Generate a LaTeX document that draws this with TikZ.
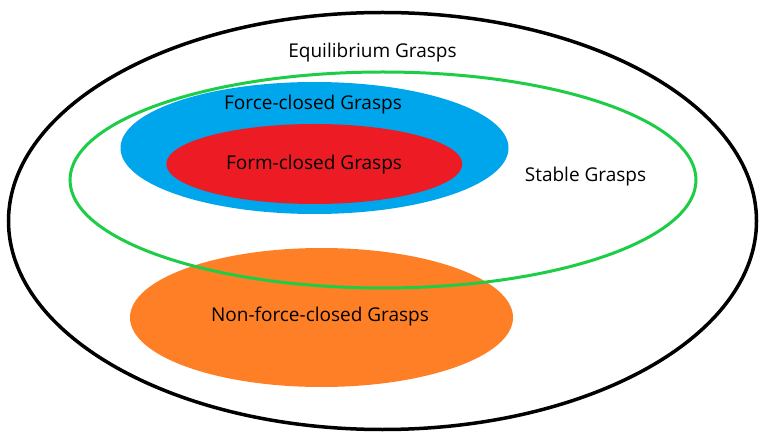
\documentclass[tikz,border=0pt]{standalone}
\usepackage{fontspec}
\setmainfont{Open Sans}
\definecolor{fblue}{RGB}{0,166,236}
\definecolor{fred}{RGB}{237,28,36}
\definecolor{forange}{RGB}{255,127,39}
\definecolor{fgreen}{RGB}{30,205,70}
\tikzset{lbl/.style={font=\fontsize{19}{23}\selectfont, text=black, inner sep=0pt}}
\begin{document}
\begin{tikzpicture}[x=1pt,y=1pt]
\useasboundingbox (0,0) rectangle (765,434);
\fill[fblue] (314.5,{434-148}) ellipse [x radius=194, y radius=66];
\fill[fred] (314.3,{434-164}) ellipse [x radius=148, y radius=40];
\fill[forange] (321.5,{434-317.5}) ellipse [x radius=191.5, y radius=69.5];
\draw[fgreen, line width=3pt] (383,{434-180}) ellipse [x radius=313, y radius=108];
\draw[black, line width=3.5pt] (382.5,{434-221}) ellipse [x radius=374, y radius=208.5];
\node[lbl] (eq) at (372.5,{434-53}) {Equilibrium Grasps};
\node[lbl] (fc) at (313,{434-105}) {Force-closed Grasps};
\node[lbl] (fm) at (314,{434-165}) {Form-closed Grasps};
\node[lbl] (st) at (585.5,{434-177}) {Stable Grasps};
\node[lbl] (nf) at (320,{434-317}) {Non-force-closed Grasps};
\end{tikzpicture}
\end{document}
